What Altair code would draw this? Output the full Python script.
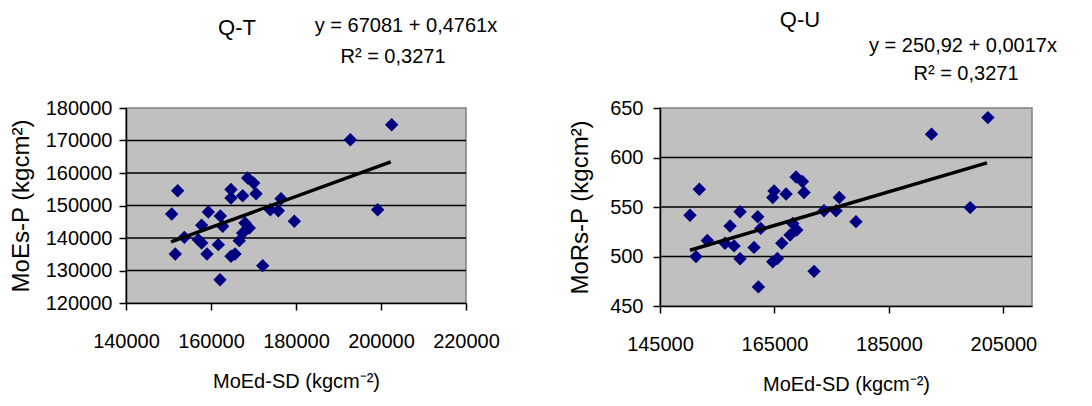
import altair as alt
import pandas as pd

FONT = "Liberation Sans"

# ---- Left panel (Q-T) data ----
qt_x = [150750, 152160, 151600, 153730, 157020, 157800, 157800, 159370, 159060, 162200,
        162750, 161720, 162120, 164700, 164700, 167450, 164700, 165650, 166660, 167450,
        168000, 169000, 168630, 170040, 170590, 172160, 173950, 175840, 176470, 179610,
        192780, 199220, 202510]
qt_y = [147400, 154550, 135080, 140200, 139500, 143900, 138460, 148000, 135080, 146770,
        143600, 137950, 127170, 154900, 152300, 153000, 134360, 135080, 139180, 141540,
        144620, 143080, 158460, 156920, 153640, 131500, 148700, 148400, 152100, 145130,
        170250, 148700, 174870]
qt_trend_x = [150600, 202300]
qt_intercept, qt_slope = 67081, 0.4761
qt_xticks = [140000, 160000, 180000, 200000, 220000]
qt_yticks = [120000, 130000, 140000, 150000, 160000, 170000, 180000]
qt_grid = [130000, 140000, 150000, 160000, 170000]

# ---- Right panel (Q-U) data ----
qu_x = [150240, 151290, 151870, 153270, 156360, 157240, 157940, 158990, 158990, 161430,
        162080, 162600, 162190, 164700, 164930, 164700, 165510, 167030, 166280, 167730,
        168200, 168900, 168780, 169880, 170170, 171920, 173660, 175760, 176330, 179240,
        192450, 199200, 202290]
qu_y = [541.6, 499.9, 567.9, 516.1, 513.4, 530.8, 510.7, 545.2, 497.8, 509.2,
        540.1, 528.4, 469.3, 559.5, 566.1, 494.6, 497.9, 563.1, 513.4, 521.7,
        533.4, 526.7, 580.3, 575.7, 564.6, 485.0, 546.2, 546.2, 559.6, 535.2,
        623.6, 549.4, 640.3]
qu_trend_x = [150240, 202130]
qu_intercept, qu_slope = 250.92, 0.0017
qu_xticks = [145000, 165000, 185000, 205000]
qu_yticks = [450, 500, 550, 600, 650]
qu_grid = [500, 550, 600]

panel_titles = ["Q-T", "Q-U"]
equations = ["y = 67081 + 0,4761x", "y = 250,92 + 0,0017x"]
r2_texts = ["R² = 0,3271", "R² = 0,3271"]
x_title = "MoEd-SD (kgcm⁻²)"
y_titles = ["MoEs-P (kgcm²)", "MoRs-P (kgcm²)"]


def txt(s, x, y, size=20):
    return alt.Chart(pd.DataFrame({"a": [0]})).mark_text(
        font=FONT, fontSize=size, color="black", align="center", baseline="alphabetic"
    ).encode(x=alt.value(x), y=alt.value(y), text=alt.value(s))


def panel(x, y, xdom, xticks, ydom, yticks, grid_vals, ytitle, intercept, slope, trend_x,
          width, height, texts, ytitle_pad, ylabel_pad):
    df = pd.DataFrame({"x": x, "y": y})
    xs = alt.Scale(domain=xdom, nice=False, zero=False)
    ys = alt.Scale(domain=ydom, nice=False, zero=False)
    x_axis = alt.Axis(values=xticks, title=x_title, format="d", labelFlush=False,
                      labelOverlap=False, labelPadding=21, titlePadding=20, titleFontSize=20)
    y_axis = alt.Axis(values=yticks, title=ytitle, format="d", labelPadding=ylabel_pad,
                      labelFlush=False, labelOverlap=False,
                      titlePadding=ytitle_pad, titleFontSize=24)
    grid = alt.Chart(pd.DataFrame({"g": grid_vals})).mark_rule(
        color="black", strokeWidth=1.5
    ).encode(y=alt.Y("g:Q", scale=ys, axis=y_axis, title=ytitle))
    pts = alt.Chart(df).mark_point(
        shape="diamond", filled=True, size=180, color="#000080", opacity=1
    ).encode(
        x=alt.X("x:Q", scale=xs, axis=x_axis, title=x_title),
        y=alt.Y("y:Q", scale=ys, axis=y_axis, title=ytitle),
    )
    line = alt.Chart(pd.DataFrame({"x": trend_x})).transform_calculate(
        y=f"{intercept} + {slope} * datum.x"
    ).mark_line(color="black", strokeWidth=3.5).encode(
        x=alt.X("x:Q", scale=xs, axis=x_axis, title=x_title),
        y=alt.Y("y:Q", scale=ys, axis=y_axis, title=ytitle)
    )
    layers = [grid, pts, line] + [txt(*t) for t in texts]
    return alt.layer(*layers).properties(width=width, height=height)


left = panel(qt_x, qt_y, [140000, 220000], qt_xticks, [120000, 180000], qt_yticks, qt_grid,
             y_titles[0], qt_intercept, qt_slope, qt_trend_x, 340, 195,
             [(panel_titles[0], 111, -73, 22), (equations[0], 280, -76, 20), (r2_texts[0], 267, -45, 20)],
             12, 7)
right = panel(qu_x, qu_y, [145000, 210000], qu_xticks, [450, 650], qu_yticks, qu_grid,
              y_titles[1], qu_intercept, qu_slope, qu_trend_x, 372, 198,
              [(panel_titles[1], 140, -81, 22), (equations[1], 303, -56, 20), (r2_texts[1], 306, -28, 20)],
              17, 10)

chart = alt.hconcat(left, right, spacing=66).properties(padding=0).configure_view(
    fill="#C0C0C0", stroke="#808080", strokeWidth=1.5
).configure_axis(
    domainColor="black", domainWidth=1.5, tickColor="black", tickWidth=1.5, tickSize=7,
    labelFont=FONT, labelFontSize=20, labelColor="black",
    titleFont=FONT, titleFontWeight="normal", titleColor="black", grid=False
)

chart.save("out.html", embed_options={"renderer": "svg", "actions": False})
